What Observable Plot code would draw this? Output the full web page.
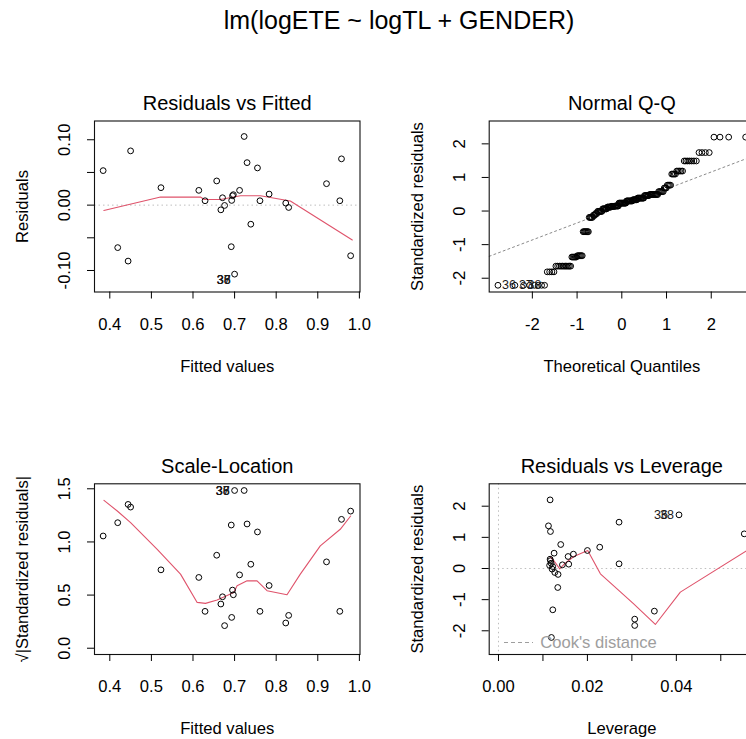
<!DOCTYPE html>
<html><head><meta charset="utf-8">
<script src="https://cdn.jsdelivr.net/npm/d3@7"></script>
<script src="https://cdn.jsdelivr.net/npm/@observablehq/plot@0.6"></script>
<style>
html,body{margin:0;padding:0;width:746px;height:739px;overflow:hidden;background:#fff;}
#wrap{position:relative;width:746px;height:739px;overflow:hidden;font-family:"Liberation Sans",Arial,sans-serif;}
#title{position:absolute;left:0;width:798px;top:6px;line-height:28px;text-align:center;font-size:25px;color:#000;white-space:nowrap;}
.panel{position:absolute;}
</style></head><body>
<div id="wrap"><div id="title">lm(logETE ~ logTL + GENDER)</div></div>
<script>
// ---------- data ----------
const mainTitle = "lm(logETE ~ logTL + GENDER)";
const panelTitles = ["Residuals vs Fitted", "Normal Q-Q", "Scale-Location", "Residuals vs Leverage"];
const xTitles = ["Fitted values", "Theoretical Quantiles", "Fitted values", "Leverage"];
const yTitles = ["Residuals", "Standardized residuals", "\u221A|Standardized residuals|", "Standardized residuals"];

// 29 distinct observations (sorted by fitted value)
const fitted = [0.384,0.419,0.444,0.450,0.523,0.614,0.629,0.657,0.667,0.671,0.676,0.692,0.693,0.695,0.697,0.700,0.712,0.723,0.730,0.739,0.755,0.761,0.783,0.823,0.830,0.921,0.953,0.957,0.979];
const residuals = [0.0528,-0.065,-0.0856,0.083,0.0267,0.0226,0.0067,0.037,-0.0072,0.0113,-0.0005,-0.0636,0.0072,0.0144,0.016,-0.1056,0.0226,0.105,0.065,-0.0292,0.0569,0.0067,0.0169,0.0031,-0.0036,0.0328,0.0067,0.0708,-0.0774];
const sqrtAbsStdResid = [1.056,1.181,1.353,1.328,0.7375,0.666,0.347,0.875,0.416,0.484,0.2125,1.159,0.29,0.547,0.503,1.484,0.69,1.484,1.169,0.79,1.094,0.347,0.59,0.2375,0.309,0.8125,0.347,1.2125,1.29];

// smoother lines (red)
const rvfSmoothX = [0.3856,0.522,0.618,0.627,0.666,0.714,0.762,0.834,0.983];
const rvfSmoothY = [-0.0082,0.0123,0.0123,0.0087,0.0087,0.0144,0.0144,0.0062,-0.0533];
const slSmoothX = [0.386,0.418,0.450,0.514,0.570,0.610,0.630,0.658,0.698,0.706,0.730,0.754,0.778,0.826,0.858,0.906,0.954,0.979];
const slSmoothY = [1.391,1.291,1.181,0.931,0.697,0.431,0.422,0.453,0.525,0.588,0.634,0.634,0.541,0.503,0.697,0.9625,1.119,1.244];

// Normal Q-Q: distinct standardized residual levels and how many observations share each
const qqValues = [-2.21,-1.81,-1.64,-1.37,-1.33,-0.615,-0.19,-0.128,-0.075,-0.01,0.065,0.118,0.139,0.15,0.236,0.30,0.335,0.385,0.46,0.492,0.578,0.684,0.77,1.10,1.19,1.49,1.74,2.20];
const qqCounts = [8,4,11,5,6,7,5,3,3,7,7,6,6,6,12,10,7,10,7,11,6,3,4,4,5,7,4,4];
const qqLabelText = ["36","37","38"];

// Residuals vs Leverage
const leverage = [0.01161,0.01124,0.01169,0.01251,0.01400,0.01161,0.01184,0.01206,0.01266,0.01340,0.01333,0.01221,0.01190,0.01438,0.01580,0.01566,0.01685,0.02000,0.02277,0.02712,0.02712,0.03064,0.03064,0.03506,0.04060,0.05528,0.01170,0.01150,0.01220];
const stdResid = [2.203,1.369,1.187,0.492,0.770,0.299,0.17,-0.02,-0.128,-0.19,-0.61,-1.326,-2.214,0.118,0.139,0.385,0.460,0.578,0.684,1.487,0.150,-1.626,-1.829,-1.369,1.722,1.112,0.25,0.10,0.06];
const levSmoothX = [0.01154,0.01243,0.01378,0.01468,0.01693,0.02007,0.02292,0.02667,0.03041,0.03528,0.0409,0.05588];
const levSmoothY = [0.385,0.257,-0.011,0.128,0.385,0.578,-0.171,-0.652,-1.134,-1.797,-0.759,0.578];
const cookLegend = "Cook's distance";

// point ids shown in the panels
const rvfLabelText = ["36","37","38"];  // all at observation index 15
const levLabelText = ["36","38"];         // at leverage index 24

// axis ticks and tick labels
const fitTicks = [0.4,0.5,0.6,0.7,0.8,0.9,1.0];
const fitTickLabels = ["0.4","0.5","0.6","0.7","0.8","0.9","1.0"];
const resTicks = [-0.10,-0.05,0,0.05,0.10];
const resTickLabels = ["-0.10","","0.00","","0.10"];
const qTicks = [-2,-1,0,1,2];
const qTickLabels = ["-2","-1","0","1","2"];
const stdTicks = [-2,-1,0,1,2];
const stdTickLabels = ["-2","-1","0","1","2"];
const slTicks = [0,0.5,1.0,1.5];
const slTickLabels = ["0.0","0.5","1.0","1.5"];
const levTicks = [0,0.01,0.02,0.03,0.04,0.05];
const levTickLabels = ["0.00","","0.02","","0.04",""];

// ---------- helpers ----------
const FONT = '"Liberation Sans", Arial, Helvetica, sans-serif';
const RED = "#DF536B", GRAY = "#BEBEBE", COOK = "#9E9E9E";
const BASE = 16.6;

function qnorm(p){
  const a=[-3.969683028665376e+01,2.209460984245205e+02,-2.759285104469687e+02,1.383577518672690e+02,-3.066479806614716e+01,2.506628277459239e+00];
  const b=[-5.447609879822406e+01,1.615858368580409e+02,-1.556989798598866e+02,6.680131188771972e+01,-1.328068155288572e+01];
  const c=[-7.784894002430293e-03,-3.223964580411365e-01,-2.400758277161838e+00,-2.549732539343734e+00,4.374664141464968e+00,2.938163982698783e+00];
  const d=[7.784695709041462e-03,3.224671290700398e-01,2.445134137142996e+00,3.754408661907416e+00];
  const pl=0.02425, ph=1-pl; let q,r;
  if(p<pl){q=Math.sqrt(-2*Math.log(p));return (((((c[0]*q+c[1])*q+c[2])*q+c[3])*q+c[4])*q+c[5])/((((d[0]*q+d[1])*q+d[2])*q+d[3])*q+1);}
  if(p<=ph){q=p-0.5;r=q*q;return (((((a[0]*r+a[1])*r+a[2])*r+a[3])*r+a[4])*r+a[5])*q/(((((b[0]*r+b[1])*r+b[2])*r+b[3])*r+b[4])*r+1);}
  q=Math.sqrt(-2*Math.log(1-p));return -(((((c[0]*q+c[1])*q+c[2])*q+c[3])*q+c[4])*q+c[5])/((((d[0]*q+d[1])*q+d[2])*q+d[3])*q+1);
}
const zip = (xs, ys) => xs.map((x, i) => ({x, y: ys[i]}));

function makePanel(cfg){
  const xl = new Map(cfg.xTicks.map((t,i)=>[t, cfg.xLabels[i]]));
  const yl = cfg.yTicks.map((t,i)=>({t, s: cfg.yLabels[i]})).filter(d=>d.s);
  const svg = Plot.plot({
    width: cfg.width, height: cfg.height,
    marginLeft: cfg.mL, marginRight: cfg.mR, marginTop: cfg.mT, marginBottom: cfg.mB,
    x: {domain: cfg.xDomain}, y: {domain: cfg.yDomain},
    style: {background: "transparent", overflow: "visible", fontFamily: FONT, fontSize: BASE + "px", color: "#000", maxWidth: "none"},
    marks: [
      ...cfg.marks,
      Plot.frame({stroke: "#111", strokeWidth: 1.1}),
      Plot.axisX({ticks: cfg.xTicks, tickSize: 7, tickPadding: 19, tickFormat: d => xl.get(d) ?? "", label: null}),
      Plot.axisY({ticks: cfg.yTicks, tickSize: 7, tickFormat: () => "", label: null}),
      Plot.text(yl, {frameAnchor: "left", y: "t", text: "s", rotate: -90, dx: -30, lineAnchor: "middle", textAnchor: "middle"}),
      Plot.text([cfg.title], {frameAnchor: "top", text: d => d, dy: -17, lineAnchor: "middle", textAnchor: "middle", fontSize: 20}),
      Plot.text([cfg.xTitle], {frameAnchor: "bottom", text: d => d, dy: 74.5, lineAnchor: "middle", textAnchor: "middle"}),
      Plot.text([cfg.yTitle], {frameAnchor: "left", text: d => d, dx: -72, rotate: -90, lineAnchor: "middle", textAnchor: "middle"})
    ]
  });
  const div = document.createElement("div");
  div.className = "panel";
  div.style.left = cfg.left + "px";
  div.style.top = cfg.top + "px";
  div.appendChild(svg);
  document.getElementById("wrap").appendChild(div);
  return svg;
}

const dotStyle = {r: 2.9, stroke: "#000", strokeWidth: 1, fill: "none"};
const refStyle = {stroke: GRAY, strokeWidth: 1, strokeDasharray: "1.5,3"};
const lineStyle = {stroke: RED, strokeWidth: 1.1};
const idStyle = {fontSize: 12.5, fill: "#1a1a1a"};

// ---------- Panel 1: Residuals vs Fitted ----------
const obs = fitted.map((f,i)=>({f, r: residuals[i], s: sqrtAbsStdResid[i]}));
makePanel({
  left: 0, top: 50, width: 373, height: 330, mL: 94, mR: 13.5, mT: 70.5, mB: 88.5,
  xDomain: [0.3632, 1.0015], yDomain: [-0.1329, 0.1287],
  xTicks: fitTicks, xLabels: fitTickLabels, yTicks: resTicks, yLabels: resTickLabels,
  title: panelTitles[0], xTitle: xTitles[0], yTitle: yTitles[0],
  marks: [
    Plot.ruleY([0], refStyle),
    Plot.line(zip(rvfSmoothX, rvfSmoothY), {x: "x", y: "y", ...lineStyle}),
    Plot.dot(obs, {x: "f", y: "r", ...dotStyle}),
    Plot.text(rvfLabelText.map(t => ({t, ...obs[15]})), {x: "f", y: "r", text: "t", textAnchor: "end", dx: -4, dy: 6, ...idStyle})
  ]
});

// ---------- Panel 2: Normal Q-Q ----------
const qqSorted = qqValues.flatMap((v,i)=>Array(qqCounts[i]).fill(v));
const nQ = qqSorted.length;
const qq = qqSorted.map((v,i)=>({q: qnorm((i + 0.5) / nQ), v}));
const q1 = d3.quantile(qqSorted, 0.25), q3 = d3.quantile(qqSorted, 0.75);
const slope = (q3 - q1) / (qnorm(0.75) - qnorm(0.25));
const intercept = q1 - slope * qnorm(0.25);
const qqX = [-2.965, 2.965];
makePanel({
  left: 373, top: 50, width: 394, height: 330, mL: 115.7, mR: 13.1, mT: 70.5, mB: 88.5,
  xDomain: qqX, yDomain: [-2.41, 2.68],
  xTicks: qTicks, xLabels: qTickLabels, yTicks: stdTicks, yLabels: stdTickLabels,
  title: panelTitles[1], xTitle: xTitles[1], yTitle: yTitles[1],
  marks: [
    Plot.line(qqX.map(x => ({x, y: intercept + slope * x})), {x: "x", y: "y", stroke: "#8a8a8a", strokeWidth: 1, strokeDasharray: "2,3"}),
    Plot.dot(qq, {x: "q", y: "v", ...dotStyle}),
    Plot.text(qqLabelText.map((t,i)=>({t, ...qq[i]})), {x: "q", y: "v", text: "t", textAnchor: "start", dx: 4, ...idStyle})
  ]
});

// ---------- Panel 3: Scale-Location ----------
makePanel({
  left: 0, top: 413, width: 373, height: 330, mL: 94, mR: 13.5, mT: 70.3, mB: 89,
  xDomain: [0.3632, 1.0015], yDomain: [-0.059, 1.547],
  xTicks: fitTicks, xLabels: fitTickLabels, yTicks: slTicks, yLabels: slTickLabels,
  title: panelTitles[2], xTitle: xTitles[2], yTitle: yTitles[2],
  marks: [
    Plot.line(zip(slSmoothX, slSmoothY), {x: "x", y: "y", ...lineStyle}),
    Plot.dot(obs, {x: "f", y: "s", ...dotStyle}),
    Plot.text(rvfLabelText.map(t => ({t, ...obs[15]})), {x: "f", y: "s", text: "t", textAnchor: "end", dx: -5, dy: 1, ...idStyle})
  ]
});

// ---------- Panel 4: Residuals vs Leverage ----------
const lev = leverage.map((h,i)=>({h, s: stdResid[i]}));
const svg4 = makePanel({
  left: 373, top: 413, width: 394, height: 330, mL: 115.7, mR: 13.1, mT: 70.3, mB: 89,
  xDomain: [-0.00209, 0.05756], yDomain: [-2.761, 2.719],
  xTicks: levTicks, xLabels: levTickLabels, yTicks: stdTicks, yLabels: stdTickLabels,
  title: panelTitles[3], xTitle: xTitles[3], yTitle: yTitles[3],
  marks: [
    Plot.ruleY([0], refStyle),
    Plot.ruleX([0], refStyle),
    Plot.line(zip(levSmoothX, levSmoothY), {x: "x", y: "y", ...lineStyle}),
    Plot.dot(lev, {x: "h", y: "s", ...dotStyle}),
    Plot.text([{t: levLabelText[0], ...lev[24]}], {x: "h", y: "s", text: "t", textAnchor: "end", dx: -11, ...idStyle}),
    Plot.text([{t: levLabelText[1], ...lev[24]}], {x: "h", y: "s", text: "t", textAnchor: "end", dx: -5, ...idStyle}),
    Plot.text([cookLegend], {frameAnchor: "bottom-left", text: d => d, dx: 51, dy: -11.5, textAnchor: "start", lineAnchor: "middle", fill: COOK})
  ]
});
// legend line sample for Cook's distance
d3.select(svg4).append("line")
  .attr("x1", 131).attr("x2", 160).attr("y1", 229.5).attr("y2", 229.5)
  .attr("stroke", COOK).attr("stroke-width", 1).attr("stroke-dasharray", "4,3");
</script>
</body></html>
